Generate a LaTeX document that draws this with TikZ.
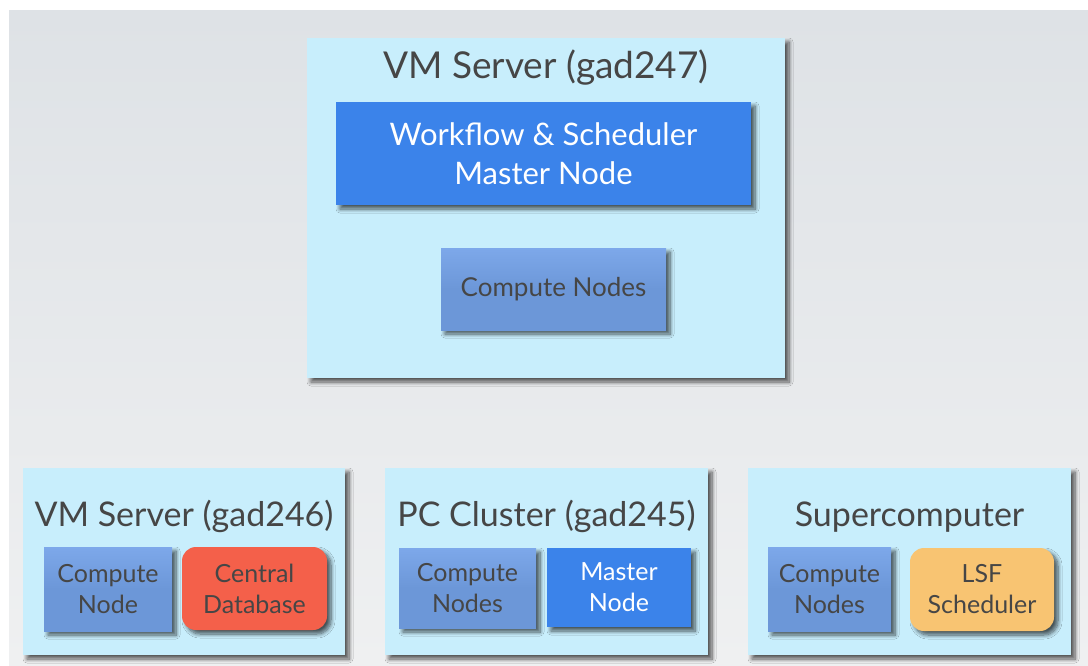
\documentclass[tikz,border=0pt]{standalone}
\usepackage{fontspec}
\setmainfont{Lato}
\usetikzlibrary{shadows.blur}
\definecolor{bgtop}{HTML}{DEE2E6}
\definecolor{bgbot}{HTML}{EFF0F1}
\definecolor{hostfill}{HTML}{C8EEFC}
\definecolor{masterblue}{HTML}{3B83EA}
\definecolor{computeblue}{HTML}{6C97D8}
\definecolor{computeedge}{HTML}{7DA8EA}
\definecolor{dbred}{HTML}{F4604A}
\definecolor{lsforange}{HTML}{F8C472}
\definecolor{inktext}{HTML}{464646}
\tikzset{
  shade/.style={blur shadow={shadow xshift=4pt, shadow yshift=-4pt, shadow blur steps=8, shadow blur radius=4pt, shadow opacity=65}},
  host/.style={shade, fill=hostfill, draw=none, inner sep=0pt},
  hosttitle/.style={anchor=base, text=inktext, inner sep=0pt},
  unit/.style={shade, draw=none, inner sep=0pt, align=center},
  master/.style={unit, fill=masterblue, text=white},
  compute/.style={unit, top color=computeedge, bottom color=computeblue, middle color=computeblue, text=inktext},
  database/.style={unit, fill=dbred, text=inktext, rounded corners=14pt},
  lsf/.style={unit, fill=lsforange, text=inktext, rounded corners=14pt},
  big/.style={font=\fontsize{37}{40}\selectfont},
  mid/.style={font=\fontsize{34}{38}\selectfont},
  small/.style={font=\fontsize{25}{31}\selectfont},
}
\begin{document}
\begin{tikzpicture}[x=1pt,y=-1pt]
% page and backdrop
\fill[white] (0,0) rectangle (1088,666);
\shade[top color=bgtop, bottom color=bgbot] (9,11) rectangle (1088,666);
\useasboundingbox (0,0) rectangle (1088,666);

% upper host
\node[host, minimum width=478pt, minimum height=340pt] (h247) at (546,208) {};
\node[hosttitle, big] (t247) at (546,79) {VM Server (gad247)};
\node[master, minimum width=415pt, minimum height=103pt,
      font=\fontsize{31}{39}\selectfont] (wfm) at (543.5,153.5) {Workflow \& Scheduler\\Master Node};
\node[compute, minimum width=225pt, minimum height=82pt,
      font=\fontsize{26}{30}\selectfont] (cn247) at (553.5,289) {Compute Nodes};

% lower left host
\node[host, minimum width=322pt, minimum height=187pt] (h246) at (184,561.5) {};
\node[hosttitle, mid] (t246) at (184,526) {VM Server (gad246)};
\node[compute, small, minimum width=128pt, minimum height=84pt] (cn246) at (108,589) {Compute\\Node};
\node[database, small, minimum width=145pt, minimum height=83pt] (db) at (254.5,588.5) {Central\\Database};

% lower middle host
\node[host, minimum width=323pt, minimum height=187pt] (h245) at (546.5,561.5) {};
\node[hosttitle, mid] (t245) at (546.5,526) {PC Cluster (gad245)};
\node[compute, small, minimum width=137pt, minimum height=80pt] (cn245) at (467.5,588) {Compute\\Nodes};
\node[master, small, minimum width=144pt, minimum height=79pt] (mn245) at (619,587.5) {Master\\Node};

% lower right host
\node[host, minimum width=323pt, minimum height=187pt] (hsc) at (909.5,561.5) {};
\node[hosttitle, mid] (tsc) at (909.5,526) {Supercomputer};
\node[compute, small, minimum width=123pt, minimum height=84pt] (cnsc) at (829.5,589) {Compute\\Nodes};
\node[lsf, small, minimum width=144pt, minimum height=83pt] (lsf) at (982,589.5) {LSF\\Scheduler};
\end{tikzpicture}
\end{document}
